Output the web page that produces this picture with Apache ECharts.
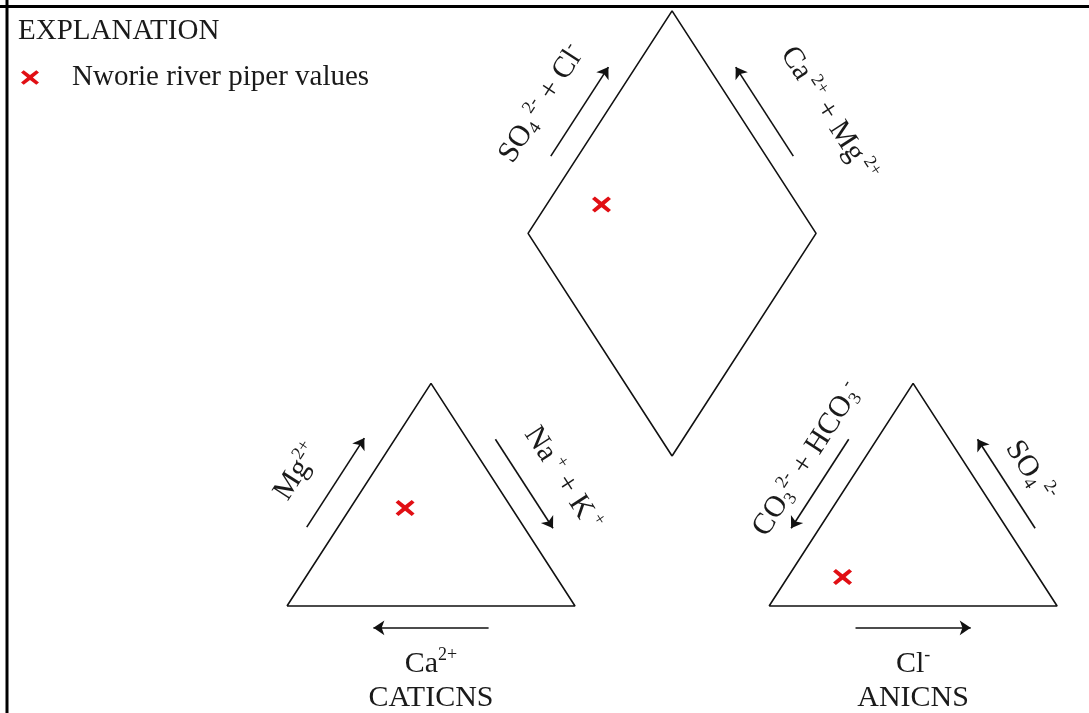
<!DOCTYPE html>
<html>
<head>
<meta charset="utf-8">
<script src="https://cdn.jsdelivr.net/npm/echarts@6/dist/echarts.min.js"></script>
<style>
  html, body { margin: 0; padding: 0; background: #fff; }
  #main { width: 1089px; height: 713px; }
</style>
</head>
<body>
<div id="main"></div>
<script>
// piper values (percent of meq/L)
var cationNames = ['Ca2+', 'Mg2+', 'Na+ + K+'];
var cationPct = [37, 44, 19];
var anionNames = ['CO3 + HCO3', 'SO4', 'Cl'];
var anionPct = [68, 13, 19];
var seriesName = 'Nworie river piper values';

// diagram geometry in triangle units (side = 100)
var SIDE = 100, H = Math.sqrt(3) / 2 * SIDE, GAP = 67.4;
var AX0 = SIDE + GAP;                      // left corner of anion triangle
var DB = [(SIDE + AX0) / 2, GAP / 2 * Math.sqrt(3)];   // diamond bottom
var DL = [DB[0] - SIDE / 2, DB[1] + H], DR = [DB[0] + SIDE / 2, DB[1] + H], DT = [DB[0], DB[1] + 2 * H];
var cA = [0, 0], cB = [SIDE, 0], cT = [SIDE / 2, H];
var aA = [AX0, 0], aB = [AX0 + SIDE, 0], aT = [AX0 + SIDE / 2, H];

// page mapping of the hidden axes
var X0_PX = 287, Y0_PX = 606, SX = 2.88, SY = 2.57, PW = 1089, PH = 713;
var ROT = Math.atan2(H * SY, SIDE / 2 * SX) * 180 / Math.PI;

var FONT = '"Liberation Serif", "Times New Roman", serif';
var INK = '#1a1a1a';
var XMARK = 'path://M3,0L10,5.2L17,0L20,2.5L13.2,8L20,13.5L17,16L10,10.8L3,16L0,13.5L6.8,8L0,2.5Z';

function edgePoint(a, b, t, off) {
    var dx = b[0] - a[0], dy = b[1] - a[1];
    var len = Math.sqrt(dx * dx + dy * dy);
    return [a[0] + dx * t - dy / len * off, a[1] + dy * t + dx / len * off];
}
function arrow(a, b, off) {
    return { coords: [edgePoint(a, b, 0.3, off), edgePoint(a, b, 0.7, off)] };
}

// plotted points
var cat = [cationPct[2] + cationPct[1] / 2, cationPct[1] / 100 * H];
var ani = [AX0 + anionPct[2] + anionPct[1] / 2, anionPct[1] / 100 * H];
// diamond: intersection of projections from both triangles
var s3 = Math.sqrt(3);
var dmX = ((ani[0] + cat[0]) + (ani[1] - cat[1]) / s3) / 2;
var dmY = cat[1] + (dmX - cat[0]) * s3;
var points = [cat, [dmX, dmY], ani];

var labels = [
    { value: edgePoint(cA, cT, 0.47, 23), text: '{b|Mg}{sup|2+}', rot: ROT },
    { value: edgePoint(cT, cB, 0.55, 21), text: '{b|Na}{sup| +}{b| + K}{sup| +}', rot: -ROT },
    { value: edgePoint(cB, cA, 0.5, 22.5), text: '{b|Ca}{sup|2+}', rot: 0 },
    { value: edgePoint(cB, cA, 0.5, 36), text: '{b|CATICNS}', rot: 0 },
    { value: edgePoint(aT, aA, 0.44, -17), text: '{b|CO}{sub|3}{sup|2-}{b| + HCO}{sub|3}{sup|-}', rot: ROT },
    { value: edgePoint(aB, aT, 0.5, -18), text: '{b|SO}{sub|4}{sup| 2-}', rot: -ROT },
    { value: edgePoint(aA, aB, 0.5, -22.5), text: '{b|Cl}{sup|-}', rot: 0 },
    { value: edgePoint(aA, aB, 0.5, -36), text: '{b|ANICNS}', rot: 0 },
    { value: edgePoint(DL, DT, 0.46, 21), text: '{b|SO}{sub|4}{sup| 2-}{b| + Cl}{sup|-}', rot: ROT },
    { value: edgePoint(DR, DT, 0.38, -27), text: '{b|Ca}{sup| 2+}{b| + Mg}{sup| 2+}', rot: -ROT }
];

var outline = { color: '#111', width: 1.6 };
function shape(pts) {
    return { type: 'line', data: pts.concat([pts[0]]), symbol: 'none', silent: true,
             lineStyle: outline, itemStyle: { color: '#111' } };
}

var myChart = echarts.init(document.getElementById('main'));
var option = {
    animation: false,
    backgroundColor: '#fff',
    title: {
        text: 'EXPLANATION', left: 13, top: 12,
        textStyle: { fontFamily: FONT, fontSize: 29, fontWeight: 'normal', color: INK }
    },
    legend: {
        left: 16, top: 58, itemWidth: 18, itemHeight: 16,
        data: [{ name: seriesName, icon: XMARK, itemStyle: { color: '#e10f14', opacity: 1 } }],
        textStyle: { fontFamily: FONT, fontSize: 29, color: INK, padding: [0, 0, 0, 28] }
    },
    grid: { left: 0, right: 0, top: 0, bottom: 0 },
    xAxis: { type: 'value', min: -X0_PX / SX, max: (PW - X0_PX) / SX, show: false },
    yAxis: { type: 'value', min: -(PH - Y0_PX) / SY, max: Y0_PX / SY, show: false },
    graphic: [
        { type: 'line', shape: { x1: 0, y1: 6.5, x2: PW, y2: 6.5 }, style: { stroke: '#000', lineWidth: 3 } },
        { type: 'line', shape: { x1: 7, y1: 0, x2: 7, y2: PH }, style: { stroke: '#000', lineWidth: 3 } }
    ],
    series: [
        shape([cA, cB, cT]),
        shape([aA, aB, aT]),
        shape([DB, DR, DT, DL]),
        {
            type: 'lines', coordinateSystem: 'cartesian2d', silent: true,
            symbol: ['none', 'arrow'], symbolSize: 11,
            lineStyle: { color: '#111', width: 1.6, opacity: 1 },
            data: [
                arrow(cA, cT, 9.4), arrow(cT, cB, 8.5), arrow(cB, cA, 8.5),
                arrow(aT, aA, -8.5), arrow(aB, aT, -8.5), arrow(aA, aB, -8.5),
                arrow(DL, DT, 8.2), arrow(DR, DT, -8.2)
            ]
        },
        {
            type: 'scatter', silent: true, symbolSize: 1,
            itemStyle: { color: '#fff', opacity: 1 },
            data: labels.map(function (l) {
                return { value: l.value, text: l.text, label: { rotate: l.rot } };
            }),
            label: {
                show: true, position: 'inside', color: INK,
                formatter: function (p) { return p.data.text; },
                rich: {
                    b: { fontFamily: FONT, fontSize: 30, color: INK },
                    sup: { fontFamily: FONT, fontSize: 18, color: INK, padding: [0, 0, 17, 0] },
                    sub: { fontFamily: FONT, fontSize: 18, color: INK, padding: [15, 0, 0, 0] }
                }
            }
        },
        {
            name: seriesName, type: 'scatter', symbol: XMARK, symbolSize: [19, 16],
            itemStyle: { color: '#e10f14', opacity: 1 },
            data: points
        }
    ]
};
myChart.setOption(option);
onresize = myChart.resize;
</script>
</body>
</html>
